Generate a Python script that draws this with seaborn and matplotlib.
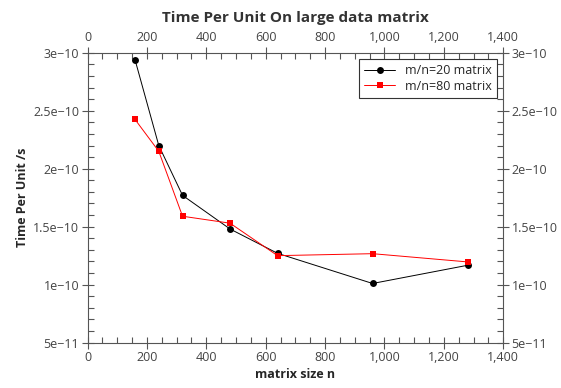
import matplotlib
matplotlib.use("Agg")
import matplotlib.pyplot as plt
import matplotlib.ticker as mticker
import seaborn as sns
import pandas as pd

sizes = [160, 240, 320, 480, 640, 960, 1280]
m20 = [2.94e-10, 2.20e-10, 1.77e-10, 1.48e-10, 1.27e-10, 1.01e-10, 1.167e-10]
m80 = [2.425e-10, 2.15e-10, 1.59e-10, 1.53e-10, 1.25e-10, 1.267e-10, 1.196e-10]
series_names = ["m/n=20 matrix", "m/n=80 matrix"]
title = "Time Per Unit On large data matrix"
xlabel = "matrix size n"
ylabel = "Time Per Unit /s"

df = pd.DataFrame({
    "n": sizes * 2,
    "t": m20 + m80,
    "series": [series_names[0]] * len(sizes) + [series_names[1]] * len(sizes),
})

sns.set_style("white")
plt.rcParams['font.family'] = ['Open Sans', 'DejaVu Sans']

fig = plt.figure(figsize=(5.61, 3.88), dpi=100)
ax = fig.add_axes([0.156, 0.117, 0.741, 0.747])

sns.lineplot(data=df, x="n", y="t", hue="series", style="series",
             palette={series_names[0]: "black", series_names[1]: "red"},
             markers={series_names[0]: "o", series_names[1]: "s"},
             dashes=False, linewidth=0.7, markersize=5, markeredgewidth=0,
             ax=ax)

ax.set_xlim(0, 1400)
ax.set_ylim(5e-11, 3e-10)
ax.xaxis.set_major_locator(mticker.MultipleLocator(200))
ax.xaxis.set_minor_locator(mticker.MultipleLocator(50))
ax.yaxis.set_major_locator(mticker.MultipleLocator(5e-11))
ax.yaxis.set_minor_locator(mticker.MultipleLocator(1e-11))
ax.xaxis.set_major_formatter(mticker.FuncFormatter(lambda v, p: f"{int(round(v)):,}"))
ax.yaxis.set_major_formatter(mticker.FuncFormatter(lambda v, p: f"{v:.3g}".replace("-", "\u2212")))

gray = "#555555"
for s in ax.spines.values():
    s.set_color(gray)
    s.set_linewidth(0.8)
ax.tick_params(which="major", direction="inout", length=8, width=0.8, color=gray,
               labelsize=9, labelcolor="#444444", top=True, right=True,
               bottom=True, left=True,
               labeltop=True, labelright=True, labelbottom=True, labelleft=True, pad=2)
ax.tick_params(which="minor", direction="in", length=4, width=0.8, color=gray,
               top=True, right=True, bottom=True, left=True)

ax.set_xlabel(xlabel, fontsize=9, fontweight="bold", labelpad=3)
ax.set_ylabel(ylabel, fontsize=9, fontweight="bold", labelpad=3)
ax.set_title(title, fontsize=11, fontweight="bold", color="#333333", pad=22)

leg = ax.legend(loc="upper right", fontsize=9, frameon=True, fancybox=False,
                borderaxespad=0.5, handlelength=2.5, borderpad=0.4, labelspacing=0.2)
leg.get_frame().set_edgecolor("#333333")
leg.get_frame().set_linewidth(0.8)
leg.get_frame().set_alpha(1)

fig.savefig("out.png", dpi=100)
